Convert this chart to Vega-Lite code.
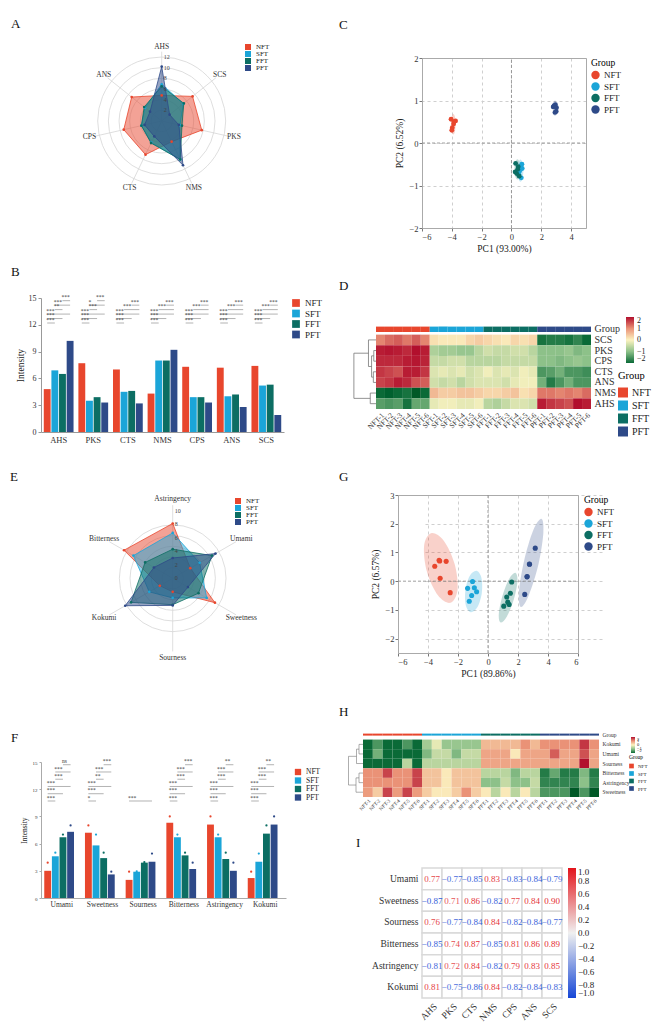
{
"$schema": "https://vega.github.io/schema/vega-lite/v6.json",
"background": "white",
"padding": {"left": 10, "top": 17, "right": 0, "bottom": 0},
"columns": 2,
"spacing": {"row": 63, "column": 136},
"bounds": "flush",
"align": "each",
"datasets": {
 "nose": [
  {"attr":"AHS","NFT":4.8,"SFT":6.9,"FFT":6.5,"PFT":10.2},
  {"attr":"PKS","NFT":7.7,"SFT":3.5,"FFT":3.9,"PFT":3.3},
  {"attr":"CTS","NFT":7.0,"SFT":4.5,"FFT":4.6,"PFT":3.2},
  {"attr":"NMS","NFT":4.3,"SFT":8.0,"FFT":8.0,"PFT":9.2},
  {"attr":"CPS","NFT":7.3,"SFT":3.9,"FFT":3.9,"PFT":3.3},
  {"attr":"ANS","NFT":7.2,"SFT":4.0,"FFT":4.2,"PFT":2.8},
  {"attr":"SCS","NFT":7.4,"SFT":5.2,"FFT":5.3,"PFT":1.9}
 ],
 "taste": [
  {"attr":"Umami","group":"NFT","value":3.0,"dot":3.9},
  {"attr":"Umami","group":"SFT","value":4.6,"dot":5.0},
  {"attr":"Umami","group":"FFT","value":6.7,"dot":7.0},
  {"attr":"Umami","group":"PFT","value":7.3,"dot":8.0},
  {"attr":"Sweetness","group":"NFT","value":7.2,"dot":8.0},
  {"attr":"Sweetness","group":"SFT","value":5.8,"dot":7.0},
  {"attr":"Sweetness","group":"FFT","value":4.4,"dot":5.0},
  {"attr":"Sweetness","group":"PFT","value":2.6,"dot":2.9},
  {"attr":"Sourness","group":"NFT","value":2.0,"dot":2.9},
  {"attr":"Sourness","group":"SFT","value":2.9,"dot":2.95},
  {"attr":"Sourness","group":"FFT","value":3.9,"dot":3.95},
  {"attr":"Sourness","group":"PFT","value":4.0,"dot":4.9},
  {"attr":"Bitterness","group":"NFT","value":8.3,"dot":9.0},
  {"attr":"Bitterness","group":"SFT","value":6.7,"dot":7.0},
  {"attr":"Bitterness","group":"FFT","value":4.7,"dot":5.0},
  {"attr":"Bitterness","group":"PFT","value":3.2,"dot":3.9},
  {"attr":"Astringency","group":"NFT","value":8.1,"dot":9.0},
  {"attr":"Astringency","group":"SFT","value":6.7,"dot":7.0},
  {"attr":"Astringency","group":"FFT","value":4.3,"dot":5.0},
  {"attr":"Astringency","group":"PFT","value":3.0,"dot":3.9},
  {"attr":"Kokumi","group":"NFT","value":2.2,"dot":2.9},
  {"attr":"Kokumi","group":"SFT","value":4.0,"dot":4.9},
  {"attr":"Kokumi","group":"FFT","value":7.1,"dot":8.0},
  {"attr":"Kokumi","group":"PFT","value":8.1,"dot":9.0}
 ],
 "noseSig": [
  {"attr":"AHS","a":"NFT","b":"SFT","l":12.2,"s":"***"},
  {"attr":"AHS","a":"NFT","b":"FFT","l":12.7,"s":"***"},
  {"attr":"AHS","a":"NFT","b":"PFT","l":13.2,"s":"***"},
  {"attr":"AHS","a":"SFT","b":"FFT","l":13.7,"s":"**"},
  {"attr":"AHS","a":"SFT","b":"PFT","l":14.2,"s":"***"},
  {"attr":"AHS","a":"FFT","b":"PFT","l":14.7,"s":"***"},
  {"attr":"PKS","a":"NFT","b":"SFT","l":12.2,"s":"***"},
  {"attr":"PKS","a":"NFT","b":"FFT","l":12.7,"s":"***"},
  {"attr":"PKS","a":"NFT","b":"PFT","l":13.2,"s":"***"},
  {"attr":"PKS","a":"SFT","b":"FFT","l":13.7,"s":"***"},
  {"attr":"PKS","a":"SFT","b":"PFT","l":14.2,"s":"*"},
  {"attr":"PKS","a":"FFT","b":"PFT","l":14.7,"s":"***"},
  {"attr":"CTS","a":"NFT","b":"SFT","l":12.2,"s":"***"},
  {"attr":"CTS","a":"NFT","b":"FFT","l":12.7,"s":"***"},
  {"attr":"CTS","a":"NFT","b":"PFT","l":13.2,"s":"***"},
  {"attr":"CTS","a":"SFT","b":"PFT","l":13.7,"s":"***"},
  {"attr":"CTS","a":"FFT","b":"PFT","l":14.2,"s":"***"},
  {"attr":"NMS","a":"NFT","b":"SFT","l":12.2,"s":"***"},
  {"attr":"NMS","a":"NFT","b":"FFT","l":12.7,"s":"***"},
  {"attr":"NMS","a":"NFT","b":"PFT","l":13.2,"s":"***"},
  {"attr":"NMS","a":"SFT","b":"PFT","l":13.7,"s":"***"},
  {"attr":"NMS","a":"FFT","b":"PFT","l":14.2,"s":"***"},
  {"attr":"CPS","a":"NFT","b":"SFT","l":12.2,"s":"***"},
  {"attr":"CPS","a":"NFT","b":"FFT","l":12.7,"s":"***"},
  {"attr":"CPS","a":"NFT","b":"PFT","l":13.2,"s":"***"},
  {"attr":"CPS","a":"SFT","b":"PFT","l":13.7,"s":"***"},
  {"attr":"CPS","a":"FFT","b":"PFT","l":14.2,"s":"***"},
  {"attr":"ANS","a":"NFT","b":"SFT","l":12.2,"s":"***"},
  {"attr":"ANS","a":"NFT","b":"FFT","l":12.7,"s":"***"},
  {"attr":"ANS","a":"NFT","b":"PFT","l":13.2,"s":"***"},
  {"attr":"ANS","a":"SFT","b":"PFT","l":13.7,"s":"***"},
  {"attr":"ANS","a":"FFT","b":"PFT","l":14.2,"s":"***"},
  {"attr":"SCS","a":"NFT","b":"SFT","l":12.2,"s":"***"},
  {"attr":"SCS","a":"NFT","b":"FFT","l":12.7,"s":"***"},
  {"attr":"SCS","a":"NFT","b":"PFT","l":13.2,"s":"***"},
  {"attr":"SCS","a":"SFT","b":"PFT","l":13.7,"s":"***"},
  {"attr":"SCS","a":"FFT","b":"PFT","l":14.2,"s":"***"}
 ],
 "tasteSig": [
  {"attr":"Umami","a":"NFT","b":"SFT","l":10.7,"s":"***"},
  {"attr":"Umami","a":"NFT","b":"FFT","l":11.5,"s":"***"},
  {"attr":"Umami","a":"NFT","b":"PFT","l":12.3,"s":"***"},
  {"attr":"Umami","a":"SFT","b":"FFT","l":13.1,"s":"***"},
  {"attr":"Umami","a":"SFT","b":"PFT","l":13.9,"s":"***"},
  {"attr":"Umami","a":"FFT","b":"PFT","l":14.7,"s":"ns"},
  {"attr":"Sweetness","a":"NFT","b":"SFT","l":10.7,"s":"*"},
  {"attr":"Sweetness","a":"NFT","b":"FFT","l":11.5,"s":"***"},
  {"attr":"Sweetness","a":"NFT","b":"PFT","l":12.3,"s":"***"},
  {"attr":"Sweetness","a":"SFT","b":"FFT","l":13.1,"s":"**"},
  {"attr":"Sweetness","a":"SFT","b":"PFT","l":13.9,"s":"***"},
  {"attr":"Sweetness","a":"FFT","b":"PFT","l":14.7,"s":"***"},
  {"attr":"Sourness","a":"NFT","b":"PFT","l":10.7,"s":"***"},
  {"attr":"Bitterness","a":"NFT","b":"SFT","l":10.7,"s":"***"},
  {"attr":"Bitterness","a":"NFT","b":"FFT","l":11.5,"s":"***"},
  {"attr":"Bitterness","a":"NFT","b":"PFT","l":12.3,"s":"***"},
  {"attr":"Bitterness","a":"SFT","b":"FFT","l":13.1,"s":"***"},
  {"attr":"Bitterness","a":"SFT","b":"PFT","l":13.9,"s":"***"},
  {"attr":"Bitterness","a":"FFT","b":"PFT","l":14.7,"s":"***"},
  {"attr":"Astringency","a":"NFT","b":"SFT","l":10.7,"s":"***"},
  {"attr":"Astringency","a":"NFT","b":"FFT","l":11.5,"s":"***"},
  {"attr":"Astringency","a":"NFT","b":"PFT","l":12.3,"s":"***"},
  {"attr":"Astringency","a":"SFT","b":"FFT","l":13.1,"s":"***"},
  {"attr":"Astringency","a":"SFT","b":"PFT","l":13.9,"s":"***"},
  {"attr":"Astringency","a":"FFT","b":"PFT","l":14.7,"s":"**"},
  {"attr":"Kokumi","a":"NFT","b":"SFT","l":10.7,"s":"***"},
  {"attr":"Kokumi","a":"NFT","b":"FFT","l":11.5,"s":"***"},
  {"attr":"Kokumi","a":"NFT","b":"PFT","l":12.3,"s":"***"},
  {"attr":"Kokumi","a":"SFT","b":"FFT","l":13.1,"s":"***"},
  {"attr":"Kokumi","a":"SFT","b":"PFT","l":13.9,"s":"***"},
  {"attr":"Kokumi","a":"FFT","b":"PFT","l":14.7,"s":"**"}
 ],
 "pcaC": [
  {"g":"NFT","x":-4.05,"y":0.56},{"g":"NFT","x":-3.75,"y":0.52},{"g":"NFT","x":-3.88,"y":0.45},
  {"g":"NFT","x":-3.97,"y":0.36},{"g":"NFT","x":-4.0,"y":0.30},{"g":"NFT","x":-3.85,"y":0.50},
  {"g":"SFT","x":0.62,"y":-0.55},{"g":"SFT","x":0.72,"y":-0.60},{"g":"SFT","x":0.55,"y":-0.66},
  {"g":"SFT","x":0.66,"y":-0.82},{"g":"SFT","x":0.50,"y":-0.74},{"g":"SFT","x":0.70,"y":-0.50},
  {"g":"FFT","x":0.28,"y":-0.48},{"g":"FFT","x":0.45,"y":-0.56},{"g":"FFT","x":0.35,"y":-0.72},
  {"g":"FFT","x":0.52,"y":-0.78},{"g":"FFT","x":0.25,"y":-0.68},{"g":"FFT","x":0.42,"y":-0.62},
  {"g":"PFT","x":2.80,"y":0.85},{"g":"PFT","x":2.95,"y":0.90},{"g":"PFT","x":3.00,"y":0.74},
  {"g":"PFT","x":2.92,"y":0.72},{"g":"PFT","x":2.86,"y":0.88},{"g":"PFT","x":3.02,"y":0.83}
 ],
 "ellC": [
  {"g":"NFT","k":0,"x":-3.75,"y":0.44},{"g":"NFT","k":1,"x":-3.79,"y":0.61},{"g":"NFT","k":2,"x":-3.9,"y":0.68},{"g":"NFT","k":3,"x":-4.01,"y":0.61},
  {"g":"NFT","k":4,"x":-4.05,"y":0.44},{"g":"NFT","k":5,"x":-4.01,"y":0.27},{"g":"NFT","k":6,"x":-3.9,"y":0.20},{"g":"NFT","k":7,"x":-3.79,"y":0.27},
  {"g":"SFT","k":0,"x":0.8,"y":-0.65},{"g":"SFT","k":1,"x":0.74,"y":-0.47},{"g":"SFT","k":2,"x":0.6,"y":-0.39},{"g":"SFT","k":3,"x":0.46,"y":-0.47},
  {"g":"SFT","k":4,"x":0.4,"y":-0.65},{"g":"SFT","k":5,"x":0.46,"y":-0.83},{"g":"SFT","k":6,"x":0.6,"y":-0.91},{"g":"SFT","k":7,"x":0.74,"y":-0.83},
  {"g":"FFT","k":0,"x":0.6,"y":-0.62},{"g":"FFT","k":1,"x":0.54,"y":-0.45},{"g":"FFT","k":2,"x":0.4,"y":-0.38},{"g":"FFT","k":3,"x":0.26,"y":-0.45},
  {"g":"FFT","k":4,"x":0.2,"y":-0.62},{"g":"FFT","k":5,"x":0.26,"y":-0.79},{"g":"FFT","k":6,"x":0.4,"y":-0.86},{"g":"FFT","k":7,"x":0.54,"y":-0.79},
  {"g":"PFT","k":0,"x":3.07,"y":0.82},{"g":"PFT","k":1,"x":3.03,"y":0.95},{"g":"PFT","k":2,"x":2.92,"y":1.0},{"g":"PFT","k":3,"x":2.81,"y":0.95},
  {"g":"PFT","k":4,"x":2.77,"y":0.82},{"g":"PFT","k":5,"x":2.81,"y":0.69},{"g":"PFT","k":6,"x":2.92,"y":0.64},{"g":"PFT","k":7,"x":3.03,"y":0.69}
 ],
 "pcaG": [
  {"g":"NFT","x":-3.55,"y":0.52},{"g":"NFT","x":-3.26,"y":0.73},{"g":"NFT","x":-2.79,"y":0.69},
  {"g":"NFT","x":-3.19,"y":0.10},{"g":"NFT","x":-2.52,"y":-0.40},{"g":"NFT","x":-3.22,"y":0.70},
  {"g":"SFT","x":-1.03,"y":-0.01},{"g":"SFT","x":-1.36,"y":-0.25},{"g":"SFT","x":-0.91,"y":-0.23},
  {"g":"SFT","x":-0.76,"y":-0.37},{"g":"SFT","x":-1.09,"y":-0.50},{"g":"SFT","x":-1.25,"y":-0.70},
  {"g":"FFT","x":1.58,"y":-0.03},{"g":"FFT","x":1.49,"y":-0.42},{"g":"FFT","x":1.25,"y":-0.55},
  {"g":"FFT","x":1.32,"y":-0.73},{"g":"FFT","x":1.41,"y":-0.81},{"g":"FFT","x":1.05,"y":-0.87},
  {"g":"PFT","x":3.15,"y":1.15},{"g":"PFT","x":2.77,"y":0.59},{"g":"PFT","x":2.61,"y":0.16},
  {"g":"PFT","x":2.45,"y":-0.46},{"g":"PFT","x":2.60,"y":0.15},{"g":"PFT","x":2.76,"y":0.60}
 ],
 "ellG": [
  {"g":"NFT","k":0,"x":-2.50,"y":-0.75},{"g":"NFT","k":1,"x":-2.03,"y":-0.30},{"g":"NFT","k":2,"x":-2.22,"y":0.59},{"g":"NFT","k":3,"x":-2.95,"y":1.41},
  {"g":"NFT","k":4,"x":-3.79,"y":1.67},{"g":"NFT","k":5,"x":-4.26,"y":1.23},{"g":"NFT","k":6,"x":-4.07,"y":0.33},{"g":"NFT","k":7,"x":-3.34,"y":-0.49},
  {"g":"SFT","k":0,"x":-0.77,"y":0.36},{"g":"SFT","k":1,"x":-0.44,"y":0.12},{"g":"SFT","k":2,"x":-0.41,"y":-0.40},{"g":"SFT","k":3,"x":-0.70,"y":-0.90},
  {"g":"SFT","k":4,"x":-1.15,"y":-1.08},{"g":"SFT","k":5,"x":-1.48,"y":-0.84},{"g":"SFT","k":6,"x":-1.51,"y":-0.32},{"g":"SFT","k":7,"x":-1.22,"y":0.18},
  {"g":"FFT","k":0,"x":1.83,"y":0.29},{"g":"FFT","k":1,"x":1.96,"y":-0.01},{"g":"FFT","k":2,"x":1.72,"y":-0.64},{"g":"FFT","k":3,"x":1.26,"y":-1.23},
  {"g":"FFT","k":4,"x":0.84,"y":-1.44},{"g":"FFT","k":5,"x":0.72,"y":-1.15},{"g":"FFT","k":6,"x":0.96,"y":-0.52},{"g":"FFT","k":7,"x":1.41,"y":0.08},
  {"g":"PFT","k":0,"x":3.56,"y":2.17},{"g":"PFT","k":1,"x":3.69,"y":1.68},{"g":"PFT","k":2,"x":3.36,"y":0.58},{"g":"PFT","k":3,"x":2.72,"y":-0.49},
  {"g":"PFT","k":4,"x":2.20,"y":-0.90},{"g":"PFT","k":5,"x":2.06,"y":-0.41},{"g":"PFT","k":6,"x":2.40,"y":0.69},{"g":"PFT","k":7,"x":3.01,"y":1.76}
 ],
 "zeroC": [{"x1":0,"x2":0,"y1":-2,"y2":2},{"x1":-6,"x2":5,"y1":0,"y2":0}],
 "zeroG": [{"x1":0,"x2":0,"y1":-2.5,"y2":3},{"x1":-6,"x2":6,"y1":0,"y2":0}],
 "heatD": [
  {"s":"NFT-1","g":"NFT","SCS":1.1,"PKS":1.9,"CPS":1.8,"CTS":1.7,"ANS":1.6,"NMS":-2.0,"AHS":-1.4},
  {"s":"NFT-2","g":"NFT","SCS":1.3,"PKS":1.95,"CPS":1.8,"CTS":1.6,"ANS":1.7,"NMS":-2.1,"AHS":-1.5},
  {"s":"NFT-3","g":"NFT","SCS":1.4,"PKS":1.9,"CPS":1.8,"CTS":1.5,"ANS":1.9,"NMS":-2.0,"AHS":-1.4},
  {"s":"NFT-4","g":"NFT","SCS":1.2,"PKS":1.8,"CPS":1.9,"CTS":1.9,"ANS":1.8,"NMS":-1.9,"AHS":-1.9},
  {"s":"NFT-5","g":"NFT","SCS":1.4,"PKS":2.0,"CPS":1.95,"CTS":1.9,"ANS":1.5,"NMS":-2.2,"AHS":-1.3},
  {"s":"NFT-6","g":"NFT","SCS":1.1,"PKS":1.9,"CPS":1.85,"CTS":1.7,"ANS":1.4,"NMS":-2.0,"AHS":-1.3},
  {"s":"SFT-1","g":"SFT","SCS":0.2,"PKS":-0.7,"CPS":-0.5,"CTS":-0.3,"ANS":-0.4,"NMS":0.6,"AHS":-0.2},
  {"s":"SFT-2","g":"SFT","SCS":0.1,"PKS":-0.8,"CPS":-0.5,"CTS":-0.2,"ANS":-0.5,"NMS":0.4,"AHS":-0.1},
  {"s":"SFT-3","g":"SFT","SCS":0.1,"PKS":-0.8,"CPS":-0.4,"CTS":-0.3,"ANS":-0.4,"NMS":0.4,"AHS":-0.1},
  {"s":"SFT-4","g":"SFT","SCS":0.1,"PKS":-0.9,"CPS":-0.4,"CTS":-0.2,"ANS":-0.6,"NMS":0.5,"AHS":-0.2},
  {"s":"SFT-5","g":"SFT","SCS":0.3,"PKS":-0.9,"CPS":-0.6,"CTS":-0.4,"ANS":-0.4,"NMS":0.5,"AHS":-0.2},
  {"s":"SFT-6","g":"SFT","SCS":0.4,"PKS":-0.6,"CPS":-0.6,"CTS":-0.3,"ANS":-0.3,"NMS":0.4,"AHS":-0.1},
  {"s":"FFT-1","g":"FFT","SCS":0.3,"PKS":-0.4,"CPS":-0.6,"CTS":-0.1,"ANS":-0.3,"NMS":0.3,"AHS":-0.6},
  {"s":"FFT-2","g":"FFT","SCS":0.2,"PKS":-0.5,"CPS":-0.6,"CTS":-0.3,"ANS":-0.3,"NMS":0.3,"AHS":-0.7},
  {"s":"FFT-3","g":"FFT","SCS":0.1,"PKS":-0.5,"CPS":-0.5,"CTS":-0.2,"ANS":-0.4,"NMS":0.4,"AHS":-0.5},
  {"s":"FFT-4","g":"FFT","SCS":0.3,"PKS":-0.4,"CPS":-0.5,"CTS":-0.3,"ANS":-0.2,"NMS":0.5,"AHS":-0.3},
  {"s":"FFT-5","g":"FFT","SCS":0.2,"PKS":-0.4,"CPS":-0.5,"CTS":-0.1,"ANS":-0.1,"NMS":0.2,"AHS":-0.3},
  {"s":"FFT-6","g":"FFT","SCS":0.3,"PKS":-0.6,"CPS":-0.5,"CTS":-0.2,"ANS":-0.1,"NMS":0.3,"AHS":-0.4},
  {"s":"PFT-1","g":"PFT","SCS":-1.9,"PKS":-1.0,"CPS":-1.0,"CTS":-1.5,"ANS":-1.2,"NMS":1.2,"AHS":1.9},
  {"s":"PFT-2","g":"PFT","SCS":-1.8,"PKS":-1.0,"CPS":-1.0,"CTS":-1.4,"ANS":-1.8,"NMS":1.2,"AHS":1.7},
  {"s":"PFT-3","g":"PFT","SCS":-1.8,"PKS":-1.0,"CPS":-1.1,"CTS":-1.2,"ANS":-1.5,"NMS":1.1,"AHS":1.6},
  {"s":"PFT-4","g":"PFT","SCS":-1.9,"PKS":-0.9,"CPS":-1.0,"CTS":-1.5,"ANS":-1.2,"NMS":1.2,"AHS":1.5},
  {"s":"PFT-5","g":"PFT","SCS":-1.7,"PKS":-1.1,"CPS":-0.9,"CTS":-1.5,"ANS":-1.5,"NMS":1.1,"AHS":2.0},
  {"s":"PFT-6","g":"PFT","SCS":-2.0,"PKS":-1.0,"CPS":-1.0,"CTS":-1.6,"ANS":-1.5,"NMS":1.3,"AHS":1.9}
 ],
 "treeD": [
  {"x":0,"x2":0.5,"y":1,"y2":1},{"x":0,"x2":0.5,"y":2,"y2":2},{"x":0.5,"x2":0.5,"y":1,"y2":2},
  {"x":0,"x2":0.6,"y":3,"y2":3},{"x":0,"x2":0.6,"y":4,"y2":4},{"x":0.6,"x2":0.6,"y":3,"y2":4},
  {"x":0.5,"x2":1.0,"y":1.5,"y2":1.5},{"x":0.6,"x2":1.0,"y":3.5,"y2":3.5},{"x":1.0,"x2":1.0,"y":1.5,"y2":3.5},
  {"x":0,"x2":1.7,"y":0,"y2":0},{"x":1.0,"x2":1.7,"y":2.5,"y2":2.5},{"x":1.7,"x2":1.7,"y":0,"y2":2.5},
  {"x":0,"x2":1.3,"y":5,"y2":5},{"x":0,"x2":1.3,"y":6,"y2":6},{"x":1.3,"x2":1.3,"y":5,"y2":6},
  {"x":1.7,"x2":5,"y":1.25,"y2":1.25},{"x":1.3,"x2":5,"y":5.5,"y2":5.5},{"x":5,"x2":5,"y":1.25,"y2":5.5}
 ],
 "heatH": [
  {"s":"NFT-1","g":"NFT","Kokumi":-2,"Umami":-2,"Sourness":-2,"Bitterness":1.0,"Astringency":1.0,"Sweetness":0.9},
  {"s":"NFT-2","g":"NFT","Kokumi":-1.5,"Umami":-1.2,"Sourness":-2,"Bitterness":1.0,"Astringency":1.0,"Sweetness":0.4},
  {"s":"NFT-3","g":"NFT","Kokumi":-2,"Umami":-2,"Sourness":-2,"Bitterness":1.6,"Astringency":1.0,"Sweetness":1.6},
  {"s":"NFT-4","g":"NFT","Kokumi":-2,"Umami":-2,"Sourness":-2,"Bitterness":1.0,"Astringency":1.0,"Sweetness":0.9},
  {"s":"NFT-5","g":"NFT","Kokumi":-1.5,"Umami":-2,"Sourness":-0.6,"Bitterness":1.0,"Astringency":1.0,"Sweetness":1.6},
  {"s":"NFT-6","g":"NFT","Kokumi":-2,"Umami":-2,"Sourness":-2,"Bitterness":1.6,"Astringency":1.6,"Sweetness":0.9},
  {"s":"SFT-1","g":"SFT","Kokumi":-0.8,"Umami":-1.1,"Sourness":-0.6,"Bitterness":0.5,"Astringency":0.5,"Sweetness":0.4},
  {"s":"SFT-2","g":"SFT","Kokumi":-0.2,"Umami":-0.5,"Sourness":-0.6,"Bitterness":0.5,"Astringency":0.5,"Sweetness":0.1},
  {"s":"SFT-3","g":"SFT","Kokumi":-0.9,"Umami":-0.5,"Sourness":-0.6,"Bitterness":0.1,"Astringency":0.1,"Sweetness":0.1},
  {"s":"SFT-4","g":"SFT","Kokumi":-0.9,"Umami":-1.1,"Sourness":-0.6,"Bitterness":0.5,"Astringency":0.5,"Sweetness":0.4},
  {"s":"SFT-5","g":"SFT","Kokumi":-0.9,"Umami":-0.5,"Sourness":-0.6,"Bitterness":0.5,"Astringency":0.5,"Sweetness":1.0},
  {"s":"SFT-6","g":"SFT","Kokumi":-0.9,"Umami":-0.5,"Sourness":-0.6,"Bitterness":0.5,"Astringency":0.5,"Sweetness":0.4},
  {"s":"FFT-1","g":"FFT","Kokumi":0.6,"Umami":0.8,"Sourness":0.8,"Bitterness":-0.6,"Astringency":-1.0,"Sweetness":0.1},
  {"s":"FFT-2","g":"FFT","Kokumi":0.6,"Umami":0.8,"Sourness":0.8,"Bitterness":-0.6,"Astringency":-1.0,"Sweetness":-0.6},
  {"s":"FFT-3","g":"FFT","Kokumi":0.6,"Umami":0.8,"Sourness":0.8,"Bitterness":-0.6,"Astringency":-0.5,"Sweetness":0.1},
  {"s":"FFT-4","g":"FFT","Kokumi":0.6,"Umami":0.1,"Sourness":0.8,"Bitterness":-1.1,"Astringency":-1.0,"Sweetness":-0.6},
  {"s":"FFT-5","g":"FFT","Kokumi":1.0,"Umami":0.8,"Sourness":0.8,"Bitterness":-0.6,"Astringency":-1.0,"Sweetness":0.1},
  {"s":"FFT-6","g":"FFT","Kokumi":0.6,"Umami":0.8,"Sourness":0.8,"Bitterness":-0.6,"Astringency":-0.5,"Sweetness":-0.6},
  {"s":"PFT-1","g":"PFT","Kokumi":1.0,"Umami":0.8,"Sourness":0.8,"Bitterness":-1.8,"Astringency":-1.7,"Sweetness":-1.5},
  {"s":"PFT-2","g":"PFT","Kokumi":1.0,"Umami":1.4,"Sourness":0.8,"Bitterness":-1.3,"Astringency":-1.7,"Sweetness":-1.5},
  {"s":"PFT-3","g":"PFT","Kokumi":1.0,"Umami":0.8,"Sourness":0.8,"Bitterness":-1.8,"Astringency":-1.7,"Sweetness":-1.5},
  {"s":"PFT-4","g":"PFT","Kokumi":1.0,"Umami":0.8,"Sourness":0.8,"Bitterness":-1.8,"Astringency":-1.7,"Sweetness":-2.2},
  {"s":"PFT-5","g":"PFT","Kokumi":1.7,"Umami":1.5,"Sourness":2.0,"Bitterness":-1.1,"Astringency":-1.0,"Sweetness":-1.5},
  {"s":"PFT-6","g":"PFT","Kokumi":1.0,"Umami":0.8,"Sourness":0.8,"Bitterness":-1.8,"Astringency":-1.7,"Sweetness":-2.2}
 ],
 "treeH": [
  {"x":0,"x2":0.8,"y":0,"y2":0},{"x":0,"x2":0.8,"y":1,"y2":1},{"x":0.8,"x2":0.8,"y":0,"y2":1},
  {"x":0.8,"x2":1.3,"y":0.5,"y2":0.5},{"x":0,"x2":1.3,"y":2,"y2":2},{"x":1.3,"x2":1.3,"y":0.5,"y2":2},
  {"x":0,"x2":0.8,"y":3,"y2":3},{"x":0,"x2":0.8,"y":4,"y2":4},{"x":0.8,"x2":0.8,"y":3,"y2":4},
  {"x":0.8,"x2":1.4,"y":3.5,"y2":3.5},{"x":0,"x2":1.4,"y":5,"y2":5},{"x":1.4,"x2":1.4,"y":3.5,"y2":5},
  {"x":1.3,"x2":2.9,"y":1.25,"y2":1.25},{"x":1.4,"x2":2.9,"y":4.25,"y2":4.25},{"x":2.9,"x2":2.9,"y":1.25,"y2":4.25}
 ],
 "corr": [
  {"t":"Umami","AHS":0.77,"PKS":-0.77,"CTS":-0.85,"NMS":0.83,"CPS":-0.83,"ANS":-0.84,"SCS":-0.79},
  {"t":"Sweetness","AHS":-0.87,"PKS":0.71,"CTS":0.86,"NMS":-0.82,"CPS":0.77,"ANS":0.84,"SCS":0.90},
  {"t":"Sourness","AHS":0.76,"PKS":-0.77,"CTS":-0.84,"NMS":0.84,"CPS":-0.82,"ANS":-0.84,"SCS":-0.77},
  {"t":"Bitterness","AHS":-0.85,"PKS":0.74,"CTS":0.87,"NMS":-0.85,"CPS":0.81,"ANS":0.86,"SCS":0.89},
  {"t":"Astringency","AHS":-0.81,"PKS":0.72,"CTS":0.84,"NMS":-0.82,"CPS":0.79,"ANS":0.83,"SCS":0.85},
  {"t":"Kokumi","AHS":0.81,"PKS":-0.75,"CTS":-0.86,"NMS":0.84,"CPS":-0.82,"ANS":-0.84,"SCS":-0.83}
 ]
},
"concat": [
 {
  "width": 245, "height": 177,
  "title": {"text": "A", "dx": -30, "dy": -8},
  "layer": [
   {"data": {"values": [{"r":2},{"r":4},{"r":6},{"r":8},{"r":10},{"r":12}]},
    "transform": [{"calculate": "0", "as": "o"}],
    "mark": {"type": "point", "shape": "circle", "filled": false, "stroke": "#d6d6d6", "strokeWidth": 0.8, "opacity": 1},
    "encoding": {
     "x": {"field": "o", "type": "quantitative", "scale": {"domain": [-12, 12], "range": [56.7, 184.7], "nice": false, "zero": false}, "axis": null},
     "y": {"field": "o", "type": "quantitative", "scale": {"domain": [-12, 12], "range": [127, -1], "nice": false, "zero": false}, "axis": null},
     "size": {"field": "r", "type": "quantitative", "scale": {"type": "pow", "exponent": 2, "domain": [0, 12], "range": [0, 16384]}, "legend": null}}},
   {"data": {"values": [{"attr":"AHS"},{"attr":"SCS"},{"attr":"PKS"},{"attr":"NMS"},{"attr":"CTS"},{"attr":"CPS"},{"attr":"ANS"}]},
    "transform": [
     {"calculate": "indexof(['AHS','SCS','PKS','NMS','CTS','CPS','ANS'], datum.attr)*2*PI/7", "as": "a"},
     {"calculate": "0", "as": "o"},
     {"calculate": "13*sin(datum.a)", "as": "ex"}, {"calculate": "13*cos(datum.a)", "as": "ey"}],
    "mark": {"type": "rule", "color": "#d6d6d6", "strokeWidth": 0.8},
    "encoding": {"x": {"field": "o", "type": "quantitative", "axis": null}, "y": {"field": "o", "type": "quantitative", "axis": null}, "x2": {"field": "ex"}, "y2": {"field": "ey"}}},
   {"data": {"name": "nose"},
    "transform": [
     {"fold": ["NFT","SFT","FFT","PFT"], "as": ["group", "value"]},
     {"calculate": "indexof(['AHS','SCS','PKS','NMS','CTS','CPS','ANS'], datum.attr)", "as": "i"},
     {"calculate": "datum.value*sin(datum.i*2*PI/7)", "as": "px"},
     {"calculate": "datum.value*cos(datum.i*2*PI/7)", "as": "py"}],
    "layer": [
     {"mark": {"type": "line", "interpolate": "linear-closed", "fillOpacity": 0.5, "strokeWidth": 0.8},
      "encoding": {
       "x": {"field": "px", "type": "quantitative", "axis": null},
       "y": {"field": "py", "type": "quantitative", "axis": null},
       "order": {"field": "i", "type": "quantitative"},
       "fill": {"field": "group", "type": "nominal", "scale": {"domain": ["NFT","SFT","FFT","PFT"], "range": ["#E8462D","#1BA5D8","#0C6E63","#2E4A88"]}, "legend": null},
       "stroke": {"field": "group", "type": "nominal", "scale": {"domain": ["NFT","SFT","FFT","PFT"], "range": ["#E8462D","#1BA5D8","#0C6E63","#2E4A88"]}, "legend": null}}},
     {"mark": {"type": "circle", "size": 7, "opacity": 1},
      "encoding": {
       "x": {"field": "px", "type": "quantitative", "axis": null},
       "y": {"field": "py", "type": "quantitative", "axis": null},
       "color": {"field": "group", "type": "nominal", "scale": {"domain": ["NFT","SFT","FFT","PFT"], "range": ["#E8462D","#1BA5D8","#0C6E63","#2E4A88"]},
        "legend": {"orient": "none", "legendX": 203, "legendY": -15, "title": null, "symbolType": "square", "symbolSize": 36, "labelFontSize": 7, "rowPadding": 0, "labelOffset": 4}}}}]},
   {"data": {"values": [{"v":2},{"v":4},{"v":6},{"v":8},{"v":10},{"v":12}]},
    "transform": [{"calculate": "0", "as": "o"}],
    "mark": {"type": "text", "fontSize": 6, "align": "left", "dx": 2, "color": "#444"},
    "encoding": {"x": {"field": "o", "type": "quantitative", "axis": null}, "y": {"field": "v", "type": "quantitative", "axis": null}, "text": {"field": "v", "type": "quantitative"}}},
   {"data": {"values": [{"attr":"AHS"},{"attr":"SCS"},{"attr":"PKS"},{"attr":"NMS"},{"attr":"CTS"},{"attr":"CPS"},{"attr":"ANS"}]},
    "transform": [
     {"calculate": "indexof(['AHS','SCS','PKS','NMS','CTS','CPS','ANS'], datum.attr)*2*PI/7", "as": "a"},
     {"calculate": "13.9*sin(datum.a)", "as": "lx"}, {"calculate": "13.9*cos(datum.a)", "as": "ly"}],
    "mark": {"type": "text", "fontSize": 7.5, "color": "#333"},
    "encoding": {"x": {"field": "lx", "type": "quantitative", "axis": null}, "y": {"field": "ly", "type": "quantitative", "axis": null}, "text": {"field": "attr", "type": "nominal"}}}
  ]
 },
 {
  "width": 164, "height": 170,
  "title": {"text": "C", "dx": -83, "dy": -18},
  "resolve": {"axis": {"x": "independent", "y": "independent"}},
  "layer": [
   {"data": {"name": "ellC"},
    "mark": {"type": "line", "interpolate": "cardinal-closed", "fillOpacity": 0.25, "strokeOpacity": 0},
    "encoding": {
     "x": {"field": "x", "type": "quantitative", "scale": {"domain": [-6, 5], "nice": false, "zero": false},
      "axis": {"orient": "bottom", "values": [-6,-4,-2,0,2,4], "title": "PC1 (93.00%)", "grid": true, "gridDash": [3,3], "gridColor": "#cfcfcf", "domainColor": "#aaa", "tickColor": "#777", "tickSize": 3, "labelFontSize": 8.5, "titleFontSize": 9.5, "labelPadding": 1, "titlePadding": 3}},
     "y": {"field": "y", "type": "quantitative", "scale": {"domain": [-2, 2], "nice": false, "zero": false},
      "axis": {"orient": "left", "values": [-2,-1,0,1,2], "title": "PC2 (6.52%)", "grid": false, "domainColor": "#aaa", "tickColor": "#777", "tickSize": 3, "labelFontSize": 8.5, "titleFontSize": 9.5, "labelPadding": 1, "titlePadding": 4}},
     "order": {"field": "k", "type": "quantitative"},
     "fill": {"field": "g", "type": "nominal", "scale": {"domain": ["NFT","SFT","FFT","PFT"], "range": ["#E8462D","#1BA5D8","#0C6E63","#2E4A88"]}, "legend": null}}},
   {"data": {"name": "zeroC"},
    "mark": {"type": "rule", "color": "#888", "strokeDash": [3,2], "strokeWidth": 0.8},
    "encoding": {
     "x": {"field": "x1", "type": "quantitative", "axis": null}, "x2": {"field": "x2"},
     "y": {"field": "y1", "type": "quantitative", "axis": null}, "y2": {"field": "y2"}}},
   {"data": {"name": "pcaC"},
    "mark": {"type": "circle", "size": 24, "opacity": 1},
    "encoding": {
     "x": {"field": "x", "type": "quantitative", "axis": {"orient": "top", "labels": false, "ticks": false, "title": null, "grid": false, "domainColor": "#aaa"}},
     "y": {"field": "y", "type": "quantitative", "axis": {"orient": "right", "labels": false, "ticks": false, "title": null, "grid": true, "gridDash": [3,3], "gridColor": "#cfcfcf", "domainColor": "#aaa"}},
     "color": {"field": "g", "type": "nominal", "scale": {"domain": ["NFT","SFT","FFT","PFT"], "range": ["#E8462D","#1BA5D8","#0C6E63","#2E4A88"]},
      "legend": {"title": "Group", "orient": "right", "offset": 5, "symbolType": "circle", "symbolSize": 70, "labelFontSize": 9, "titleFontSize": 9.5, "rowPadding": 1.5, "titlePadding": 3, "symbolStrokeWidth": 0}}}}
  ]
 },
 {
  "width": 243, "height": 134,
  "title": {"text": "B", "dx": -30, "dy": -11},
  "layer": [
   {"data": {"name": "nose"},
    "transform": [{"fold": ["NFT","SFT","FFT","PFT"], "as": ["group", "value"]}],
    "mark": {"type": "bar"},
    "encoding": {
     "x": {"field": "attr", "type": "nominal", "title": null, "scale": {"domain": ["AHS","PKS","CTS","NMS","CPS","ANS","SCS"], "paddingInner": 0.14, "paddingOuter": 0.08},
      "axis": {"labelAngle": 0, "labelFontSize": 8.5, "ticks": false, "domainColor": "#999", "labelPadding": 3}},
     "xOffset": {"field": "group", "type": "nominal", "scale": {"domain": ["NFT","SFT","FFT","PFT"], "paddingInner": 0.1}},
     "y": {"field": "value", "type": "quantitative", "title": "Intensity", "scale": {"domain": [0, 15], "nice": false},
      "axis": {"values": [0,3,6,9,12,15], "labelOverlap": false, "grid": false, "labelFontSize": 8, "titleFontSize": 9.5, "tickSize": 3, "domainColor": "#999", "tickColor": "#999", "titlePadding": 3}},
     "color": {"field": "group", "type": "nominal", "scale": {"domain": ["NFT","SFT","FFT","PFT"], "range": ["#E8462D","#1BA5D8","#0C6E63","#2E4A88"]},
      "legend": {"title": null, "orient": "right", "offset": 7, "symbolType": "square", "symbolSize": 60, "labelFontSize": 9, "rowPadding": 0.5, "labelOffset": 4}}}},
   {"data": {"name": "noseSig"},
    "transform": [{"fold": ["a", "b"], "as": ["end", "grp"]}],
    "mark": {"type": "line", "color": "#666", "strokeWidth": 0.5},
    "encoding": {
     "x": {"field": "attr", "type": "nominal", "title": null,
      "axis": {"labelAngle": 0, "labelFontSize": 8.5, "ticks": false, "domainColor": "#999", "labelPadding": 3}},
     "xOffset": {"field": "grp", "type": "nominal"},
     "y": {"field": "l", "type": "quantitative", "title": "Intensity",
      "axis": {"values": [0,3,6,9,12,15], "labelOverlap": false, "grid": false, "labelFontSize": 8, "titleFontSize": 9.5, "tickSize": 3, "domainColor": "#999", "tickColor": "#999", "titlePadding": 3}},
     "detail": [{"field": "attr", "type": "nominal"}, {"field": "l", "type": "nominal"}]}},
   {"data": {"name": "noseSig"},
    "mark": {"type": "text", "fontSize": 5.5, "align": "left", "baseline": "bottom", "dx": -1, "dy": -0.3, "color": "#333"},
    "encoding": {
     "x": {"field": "attr", "type": "nominal", "title": null,
      "axis": {"labelAngle": 0, "labelFontSize": 8.5, "ticks": false, "domainColor": "#999", "labelPadding": 3}},
     "xOffset": {"field": "a", "type": "nominal"},
     "y": {"field": "l", "type": "quantitative", "title": "Intensity",
      "axis": {"values": [0,3,6,9,12,15], "labelOverlap": false, "grid": false, "labelFontSize": 8, "titleFontSize": 9.5, "tickSize": 3, "domainColor": "#999", "tickColor": "#999", "titlePadding": 3}},
     "text": {"field": "s", "type": "nominal"}}}
  ]
 },
 {
  "width": 169, "height": 111,
  "title": {"text": "D", "dx": -83, "dy": -1},
  "resolve": {"scale": {"x": "independent", "y": "independent", "color": "independent"}, "axis": {"x": "independent", "y": "independent"}},
  "layer": [
   {"data": {"name": "treeD"},
    "mark": {"type": "rule", "color": "#777", "strokeWidth": 0.8},
    "encoding": {
     "x": {"field": "x", "type": "quantitative", "scale": {"domain": [0, 5.2], "range": [-46, -69], "nice": false, "zero": false}, "axis": null},
     "x2": {"field": "x2"},
     "y": {"field": "y", "type": "quantitative", "scale": {"domain": [-0.5, 6.5], "range": [36.6, 111], "nice": false, "zero": false}, "axis": null},
     "y2": {"field": "y2"}}},
   {"data": {"name": "heatD"},
    "transform": [{"fold": ["SCS","PKS","CPS","CTS","ANS","NMS","AHS"], "as": ["attr", "z"]}],
    "mark": "rect",
    "encoding": {
     "x": {"field": "s", "type": "nominal", "sort": null, "scale": {"range": [-46, 169], "paddingInner": 0, "paddingOuter": 0},
      "axis": {"title": null, "labelAngle": -45, "ticks": false, "domain": false, "labelFontSize": 7.5, "labelPadding": 2}},
     "y": {"field": "attr", "type": "nominal", "scale": {"domain": ["Group","SCS","PKS","CPS","CTS","ANS","NMS","AHS"], "range": [26, 111], "paddingInner": 0, "paddingOuter": 0},
      "axis": {"orient": "right", "title": null, "ticks": false, "domain": false, "labelFontSize": 10, "labelPadding": 3}},
     "color": {"field": "z", "type": "quantitative", "scale": {"domain": [-2,-1,0,1,2], "range": ["#0a6a37","#8dc189","#fcf3c0","#ea9277","#b20f2d"], "interpolate": "rgb"},
      "legend": {"orient": "none", "legendX": 204, "legendY": 19, "title": null, "direction": "vertical", "gradientLength": 46, "gradientThickness": 8, "values": [-2,-1,0,1,2], "labelFontSize": 8, "labelOffset": 3, "labelOverlap": false}}}},
   {"data": {"name": "heatD"},
    "transform": [{"calculate": "0", "as": "b0"}, {"calculate": "1", "as": "b1"}],
    "mark": "rect",
    "encoding": {
     "x": {"field": "s", "type": "nominal", "sort": null, "scale": {"range": [-46, 169], "paddingInner": 0, "paddingOuter": 0}, "axis": null},
     "y": {"field": "b0", "type": "quantitative", "scale": {"domain": [0, 1], "range": [34, 28.6], "nice": false, "zero": false}, "axis": null},
     "y2": {"field": "b1"},
     "color": {"field": "g", "type": "nominal", "scale": {"domain": ["NFT","SFT","FFT","PFT"], "range": ["#E8462D","#1BA5D8","#0C6E63","#2E4A88"]},
      "legend": {"orient": "none", "legendX": 196, "legendY": 73, "title": "Group", "titleFontSize": 10.5, "titlePadding": 6, "symbolType": "square", "symbolSize": 100, "labelFontSize": 10, "rowPadding": 3, "symbolStrokeWidth": 0}}}}
  ]
 },
 {
  "width": 245, "height": 175,
  "title": {"text": "E", "dx": -31, "dy": -7},
  "layer": [
   {"data": {"values": [{"r":2},{"r":4},{"r":6},{"r":8},{"r":10}]},
    "transform": [{"calculate": "0", "as": "o"}],
    "mark": {"type": "point", "shape": "circle", "filled": false, "stroke": "#d6d6d6", "strokeWidth": 0.8, "opacity": 1},
    "encoding": {
     "x": {"field": "o", "type": "quantitative", "scale": {"domain": [-10, 10], "range": [64, 199.4], "nice": false, "zero": false}, "axis": null},
     "y": {"field": "o", "type": "quantitative", "scale": {"domain": [-10, 10], "range": [151, 15.6], "nice": false, "zero": false}, "axis": null},
     "size": {"field": "r", "type": "quantitative", "scale": {"type": "pow", "exponent": 2, "domain": [0, 10], "range": [0, 18333]}, "legend": null}}},
   {"data": {"values": [{"attr":"Astringency"},{"attr":"Umami"},{"attr":"Sweetness"},{"attr":"Sourness"},{"attr":"Kokumi"},{"attr":"Bitterness"}]},
    "transform": [
     {"calculate": "indexof(['Astringency','Umami','Sweetness','Sourness','Kokumi','Bitterness'], datum.attr)*2*PI/6", "as": "a"},
     {"calculate": "0", "as": "o"},
     {"calculate": "10.8*sin(datum.a)", "as": "ex"}, {"calculate": "10.8*cos(datum.a)", "as": "ey"}],
    "mark": {"type": "rule", "color": "#d6d6d6", "strokeWidth": 0.8},
    "encoding": {"x": {"field": "o", "type": "quantitative", "axis": null}, "y": {"field": "o", "type": "quantitative", "axis": null}, "x2": {"field": "ex"}, "y2": {"field": "ey"}}},
   {"data": {"name": "taste"},
    "transform": [
     {"calculate": "indexof(['Astringency','Umami','Sweetness','Sourness','Kokumi','Bitterness'], datum.attr)", "as": "i"},
     {"calculate": "datum.value*sin(datum.i*2*PI/6)", "as": "px"},
     {"calculate": "datum.value*cos(datum.i*2*PI/6)", "as": "py"}],
    "layer": [
     {"mark": {"type": "line", "interpolate": "linear-closed", "fillOpacity": 0.5, "strokeWidth": 0.8},
      "encoding": {
       "x": {"field": "px", "type": "quantitative", "axis": null},
       "y": {"field": "py", "type": "quantitative", "axis": null},
       "order": {"field": "i", "type": "quantitative"},
       "fill": {"field": "group", "type": "nominal", "scale": {"domain": ["NFT","SFT","FFT","PFT"], "range": ["#E8462D","#1BA5D8","#0C6E63","#2E4A88"]}, "legend": null},
       "stroke": {"field": "group", "type": "nominal", "scale": {"domain": ["NFT","SFT","FFT","PFT"], "range": ["#E8462D","#1BA5D8","#0C6E63","#2E4A88"]}, "legend": null}}},
     {"mark": {"type": "circle", "size": 7, "opacity": 1},
      "encoding": {
       "x": {"field": "px", "type": "quantitative", "axis": null},
       "y": {"field": "py", "type": "quantitative", "axis": null},
       "color": {"field": "group", "type": "nominal", "scale": {"domain": ["NFT","SFT","FFT","PFT"], "range": ["#E8462D","#1BA5D8","#0C6E63","#2E4A88"]},
        "legend": {"orient": "none", "legendX": 193, "legendY": 2, "title": null, "symbolType": "square", "symbolSize": 36, "labelFontSize": 7, "rowPadding": 0, "labelOffset": 4}}}}]},
   {"data": {"values": [{"v":0},{"v":2},{"v":4},{"v":6},{"v":8},{"v":10}]},
    "transform": [{"calculate": "0", "as": "o"}],
    "mark": {"type": "text", "fontSize": 6, "align": "left", "dx": 2, "color": "#444"},
    "encoding": {"x": {"field": "o", "type": "quantitative", "axis": null}, "y": {"field": "v", "type": "quantitative", "axis": null}, "text": {"field": "v", "type": "quantitative"}}},
   {"data": {"values": [{"attr":"Astringency"},{"attr":"Umami"},{"attr":"Sweetness"},{"attr":"Sourness"},{"attr":"Kokumi"},{"attr":"Bitterness"}]},
    "transform": [
     {"calculate": "indexof(['Astringency','Umami','Sweetness','Sourness','Kokumi','Bitterness'], datum.attr)*2*PI/6", "as": "a"},
     {"calculate": "11.7*sin(datum.a)", "as": "lx"}, {"calculate": "11.7*cos(datum.a)", "as": "ly"}],
    "mark": {"type": "text", "fontSize": 7.5, "color": "#333"},
    "encoding": {"x": {"field": "lx", "type": "quantitative", "axis": null}, "y": {"field": "ly", "type": "quantitative", "axis": null}, "text": {"field": "attr", "type": "nominal"}}}
  ]
 },
 {
  "width": 156, "height": 158,
  "title": {"text": "G", "dx": -83, "dy": -3},
  "resolve": {"axis": {"x": "independent", "y": "independent"}},
  "layer": [
   {"data": {"name": "ellG"},
    "mark": {"type": "line", "interpolate": "cardinal-closed", "fillOpacity": 0.25, "strokeOpacity": 0},
    "encoding": {
     "x": {"field": "x", "type": "quantitative", "scale": {"domain": [-6, 6], "range": [-24, 156], "nice": false, "zero": false},
      "axis": {"orient": "bottom", "values": [-6,-4,-2,0,2,4,6], "title": "PC1 (89.86%)", "grid": true, "gridDash": [3,3], "gridColor": "#cfcfcf", "domainColor": "#aaa", "tickColor": "#777", "tickSize": 3, "labelFontSize": 8.5, "titleFontSize": 9.5, "labelPadding": 1, "titlePadding": 3}},
     "y": {"field": "y", "type": "quantitative", "scale": {"domain": [-2.5, 3], "nice": false, "zero": false},
      "axis": {"orient": "left", "offset": 24, "values": [-2,-1,0,1,2,3], "title": "PC2 (6.57%)", "grid": false, "domainColor": "#aaa", "tickColor": "#777", "tickSize": 3, "labelFontSize": 8.5, "titleFontSize": 9.5, "labelPadding": 1, "titlePadding": 4}},
     "order": {"field": "k", "type": "quantitative"},
     "fill": {"field": "g", "type": "nominal", "scale": {"domain": ["NFT","SFT","FFT","PFT"], "range": ["#E8462D","#1BA5D8","#0C6E63","#2E4A88"]}, "legend": null}}},
   {"data": {"name": "zeroG"},
    "mark": {"type": "rule", "color": "#888", "strokeDash": [3,2], "strokeWidth": 0.8},
    "encoding": {
     "x": {"field": "x1", "type": "quantitative", "axis": null}, "x2": {"field": "x2"},
     "y": {"field": "y1", "type": "quantitative", "axis": null}, "y2": {"field": "y2"}}},
   {"data": {"name": "pcaG"},
    "mark": {"type": "circle", "size": 26, "opacity": 1},
    "encoding": {
     "x": {"field": "x", "type": "quantitative", "axis": {"orient": "top", "labels": false, "ticks": false, "title": null, "grid": false, "domainColor": "#aaa"}},
     "y": {"field": "y", "type": "quantitative", "axis": {"orient": "right", "labels": false, "ticks": false, "title": null, "grid": true, "gridDash": [3,3], "gridColor": "#cfcfcf", "domainColor": "#aaa"}},
     "color": {"field": "g", "type": "nominal", "scale": {"domain": ["NFT","SFT","FFT","PFT"], "range": ["#E8462D","#1BA5D8","#0C6E63","#2E4A88"]},
      "legend": {"title": "Group", "orient": "right", "offset": 6, "symbolType": "circle", "symbolSize": 70, "labelFontSize": 9, "titleFontSize": 9.5, "rowPadding": 1.5, "titlePadding": 3, "symbolStrokeWidth": 0}}}}
  ]
 },
 {
  "width": 245, "height": 72,
  "title": {"text": "F", "dx": -30, "dy": 16},
  "layer": [
   {"data": {"name": "taste"},
    "mark": {"type": "bar"},
    "encoding": {
     "x": {"field": "attr", "type": "nominal", "title": null, "scale": {"domain": ["Umami","Sweetness","Sourness","Bitterness","Astringency","Kokumi"], "paddingInner": 0.14, "paddingOuter": 0.08},
      "axis": {"offset": 93, "labelAngle": 0, "labelFontSize": 7.5, "ticks": false, "domainColor": "#aaa", "labelPadding": 2}},
     "xOffset": {"field": "group", "type": "nominal", "scale": {"domain": ["NFT","SFT","FFT","PFT"], "paddingInner": 0.1}},
     "y": {"field": "value", "type": "quantitative", "title": "Intensity", "scale": {"domain": [0, 15], "range": [165, 29], "nice": false},
      "axis": {"values": [0,3,6,9,12,15], "labelOverlap": false, "grid": false, "labelFontSize": 5, "titleFontSize": 7.5, "tickSize": 2, "domainColor": "#aaa", "tickColor": "#aaa", "titlePadding": 4}},
     "color": {"field": "group", "type": "nominal", "scale": {"domain": ["NFT","SFT","FFT","PFT"], "range": ["#E8462D","#1BA5D8","#0C6E63","#2E4A88"]},
      "legend": {"title": null, "orient": "none", "legendX": 253, "legendY": 35, "symbolType": "square", "symbolSize": 40, "labelFontSize": 7.5, "rowPadding": 0.5, "labelOffset": 4}}}},
   {"data": {"name": "taste"},
    "mark": {"type": "circle", "size": 5, "opacity": 1},
    "encoding": {
     "x": {"field": "attr", "type": "nominal", "title": null,
      "axis": {"offset": 93, "labelAngle": 0, "labelFontSize": 7.5, "ticks": false, "domainColor": "#aaa", "labelPadding": 2}},
     "xOffset": {"field": "group", "type": "nominal"},
     "y": {"field": "dot", "type": "quantitative", "title": "Intensity",
      "axis": {"values": [0,3,6,9,12,15], "labelOverlap": false, "grid": false, "labelFontSize": 5, "titleFontSize": 7.5, "tickSize": 2, "domainColor": "#aaa", "tickColor": "#aaa", "titlePadding": 4}},
     "color": {"field": "group", "type": "nominal"}}},
   {"data": {"name": "tasteSig"},
    "transform": [{"fold": ["a", "b"], "as": ["end", "grp"]}],
    "mark": {"type": "line", "color": "#666", "strokeWidth": 0.5},
    "encoding": {
     "x": {"field": "attr", "type": "nominal", "title": null,
      "axis": {"offset": 93, "labelAngle": 0, "labelFontSize": 7.5, "ticks": false, "domainColor": "#aaa", "labelPadding": 2}},
     "xOffset": {"field": "grp", "type": "nominal"},
     "y": {"field": "l", "type": "quantitative", "title": "Intensity",
      "axis": {"values": [0,3,6,9,12,15], "labelOverlap": false, "grid": false, "labelFontSize": 5, "titleFontSize": 7.5, "tickSize": 2, "domainColor": "#aaa", "tickColor": "#aaa", "titlePadding": 4}},
     "detail": [{"field": "attr", "type": "nominal"}, {"field": "l", "type": "nominal"}]}},
   {"data": {"name": "tasteSig"},
    "mark": {"type": "text", "fontSize": 5.5, "align": "left", "baseline": "bottom", "dx": -1, "dy": -0.3, "color": "#333"},
    "encoding": {
     "x": {"field": "attr", "type": "nominal", "title": null,
      "axis": {"offset": 93, "labelAngle": 0, "labelFontSize": 7.5, "ticks": false, "domainColor": "#aaa", "labelPadding": 2}},
     "xOffset": {"field": "a", "type": "nominal"},
     "y": {"field": "l", "type": "quantitative", "title": "Intensity",
      "axis": {"values": [0,3,6,9,12,15], "labelOverlap": false, "grid": false, "labelFontSize": 5, "titleFontSize": 7.5, "tickSize": 2, "domainColor": "#aaa", "tickColor": "#aaa", "titlePadding": 4}},
     "text": {"field": "s", "type": "nominal"}}}
  ]
 },
 {
  "width": 177, "height": 64,
  "title": {"text": "H", "dx": -83, "dy": -9},
  "resolve": {"scale": {"x": "independent", "y": "independent", "color": "independent"}, "axis": {"x": "independent", "y": "independent"}},
  "layer": [
   {"data": {"name": "treeH"},
    "mark": {"type": "rule", "color": "#777", "strokeWidth": 0.6},
    "encoding": {
     "x": {"field": "x", "type": "quantitative", "scale": {"domain": [0, 3], "range": [-59, -74], "nice": false, "zero": false}, "axis": null},
     "x2": {"field": "x2"},
     "y": {"field": "y", "type": "quantitative", "scale": {"domain": [-0.5, 5.5], "range": [6.6, 64], "nice": false, "zero": false}, "axis": null},
     "y2": {"field": "y2"}}},
   {"data": {"name": "heatH"},
    "transform": [{"fold": ["Kokumi","Umami","Sourness","Bitterness","Astringency","Sweetness"], "as": ["attr", "z"]}],
    "mark": "rect",
    "encoding": {
     "x": {"field": "s", "type": "nominal", "sort": null, "scale": {"range": [-59, 177], "paddingInner": 0, "paddingOuter": 0},
      "axis": {"title": null, "labelAngle": -45, "ticks": false, "domain": false, "labelFontSize": 5, "labelPadding": 1}},
     "y": {"field": "attr", "type": "nominal", "scale": {"domain": ["Group","Kokumi","Umami","Sourness","Bitterness","Astringency","Sweetness"], "range": [-3, 64], "paddingInner": 0, "paddingOuter": 0},
      "axis": {"orient": "right", "title": null, "ticks": false, "domain": false, "labelFontSize": 5.5, "labelPadding": 3}},
     "color": {"field": "z", "type": "quantitative", "scale": {"domain": [-2,-1,0,1,2], "range": ["#0a6a37","#8dc189","#fcf3c0","#ea9277","#b20f2d"], "interpolate": "rgb"},
      "legend": {"orient": "none", "legendX": 209, "legendY": 4, "title": null, "direction": "vertical", "gradientLength": 16, "gradientThickness": 4, "values": [-2,-1,0,1,2], "labelFontSize": 4.5, "labelOffset": 2, "labelOverlap": false}}}},
   {"data": {"name": "heatH"},
    "transform": [{"calculate": "0", "as": "b0"}, {"calculate": "1", "as": "b1"}],
    "mark": "rect",
    "encoding": {
     "x": {"field": "s", "type": "nominal", "sort": null, "scale": {"range": [-59, 177], "paddingInner": 0, "paddingOuter": 0}, "axis": null},
     "y": {"field": "b0", "type": "quantitative", "scale": {"domain": [0, 1], "range": [2.6, 0.6], "nice": false, "zero": false}, "axis": null},
     "y2": {"field": "b1"},
     "color": {"field": "g", "type": "nominal", "scale": {"domain": ["NFT","SFT","FFT","PFT"], "range": ["#E8462D","#1BA5D8","#0C6E63","#2E4A88"]},
      "legend": {"orient": "none", "legendX": 207, "legendY": 22, "title": "Group", "titleFontSize": 5.5, "titlePadding": 3, "symbolType": "square", "symbolSize": 22, "labelFontSize": 5, "rowPadding": 1.5, "symbolStrokeWidth": 0}}}}
  ]
 },
 {
  "width": 1, "height": 1,
  "data": {"values": [{"o": 0}]},
  "mark": {"type": "point", "opacity": 0},
  "encoding": {"x": {"field": "o", "type": "quantitative", "axis": null}, "y": {"field": "o", "type": "quantitative", "axis": null}}
 },
 {
  "width": 140, "height": 130,
  "title": {"text": "I", "dx": -66, "dy": -13},
  "data": {"name": "corr"},
  "transform": [{"fold": ["AHS","PKS","CTS","NMS","CPS","ANS","SCS"], "as": ["attr", "r"]}],
  "encoding": {
   "x": {"field": "attr", "type": "nominal", "scale": {"domain": ["AHS","PKS","CTS","NMS","CPS","ANS","SCS"]},
    "axis": {"title": null, "labelAngle": -45, "ticks": false, "domain": false, "labelFontSize": 9.5, "labelPadding": 3}},
   "y": {"field": "t", "type": "nominal", "scale": {"domain": ["Umami","Sweetness","Sourness","Bitterness","Astringency","Kokumi"]},
    "axis": {"title": null, "ticks": false, "domain": false, "labelFontSize": 9.5, "labelPadding": 4}}
  },
  "layer": [
   {"mark": {"type": "rect", "fill": "#ffffff", "stroke": "#d9d9d9", "strokeWidth": 1.5}},
   {"mark": {"type": "text", "fontSize": 9},
    "encoding": {
     "text": {"field": "r", "type": "quantitative", "format": ".2f"},
     "color": {"field": "r", "type": "quantitative", "scale": {"domain": [-1, 0, 1], "range": ["#1646d6", "#f0f0f0", "#e3141b"], "interpolate": "rgb"},
      "legend": {"orient": "right", "offset": 6, "title": null, "gradientLength": 130, "gradientThickness": 8, "values": [-1,-0.8,-0.6,-0.4,-0.2,0,0.2,0.4,0.6,0.8,1], "format": ".1f", "labelFontSize": 9, "labelOverlap": false}}}}
  ]
 }
],
"config": {
 "view": {"stroke": null},
 "font": "Liberation Serif",
 "title": {"fontSize": 13, "fontWeight": "normal", "anchor": "start", "frame": "group", "offset": 0, "color": "#111"},
 "axis": {"labelColor": "#333", "titleColor": "#222", "titleFontWeight": "normal"},
 "legend": {"labelColor": "#222", "titleFontWeight": "normal"}
}
}
